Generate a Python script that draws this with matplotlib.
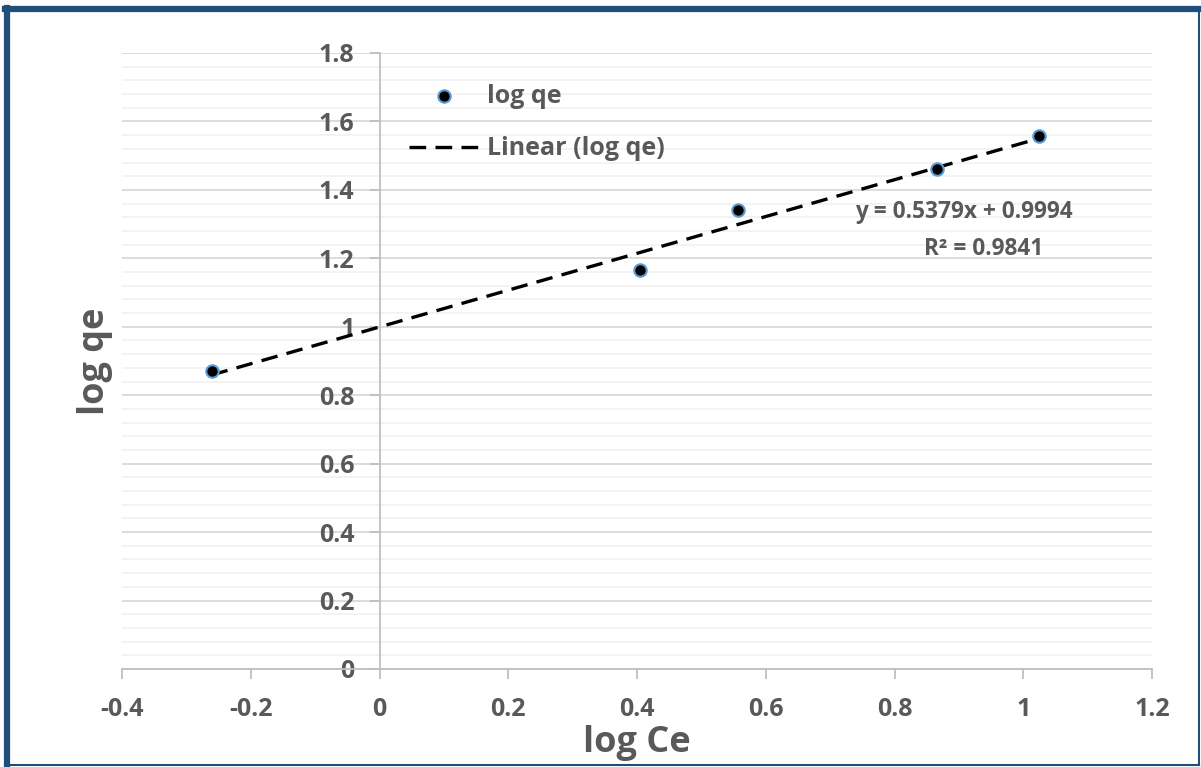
import numpy as np
import matplotlib.pyplot as plt
from matplotlib.lines import Line2D
from matplotlib.ticker import MultipleLocator

# Freundlich isotherm data
log_ce = [-0.261, 0.404, 0.557, 0.866, 1.025]
log_qe = [0.871, 1.166, 1.341, 1.461, 1.557]
slope = 0.5379
intercept = 0.9994
r2 = 0.9841

x_ticks = [-0.4, -0.2, 0, 0.2, 0.4, 0.6, 0.8, 1, 1.2]
x_labels = ['-0.4', '-0.2', '0', '0.2', '0.4', '0.6', '0.8', '1', '1.2']
y_ticks = [0, 0.2, 0.4, 0.6, 0.8, 1, 1.2, 1.4, 1.6, 1.8]
y_labels = ['0', '0.2', '0.4', '0.6', '0.8', '1', '1.2', '1.4', '1.6', '1.8']

plt.rcParams['font.family'] = ['Open Sans', 'DejaVu Sans']
plt.rcParams['font.weight'] = 'bold'
grey = '#595959'

fig = plt.figure(figsize=(12.01, 7.67), dpi=100)
ax = fig.add_axes([0.1016, 0.1278, 0.8576, 0.8031])

# data points
ax.scatter(log_ce, log_qe, s=80, color='black', edgecolors='#5B9BD5',
           linewidths=1.5, zorder=4, label='log qe')

# linear trendline across the data range
xs = np.array([min(log_ce), max(log_ce)])
ax.plot(xs, slope * xs + intercept, color='black', lw=2.4,
        dashes=(5, 2.8), zorder=3, label='Linear (log qe)')

ax.set_xlim(-0.4, 1.2)
ax.set_ylim(0, 1.8)
ax.set_xticks(x_ticks)
ax.set_xticklabels(x_labels)
ax.set_yticks(y_ticks)
ax.set_yticklabels(y_labels)
ax.yaxis.set_minor_locator(MultipleLocator(0.04))

ax.grid(axis='y', which='major', color='#D9D9D9', lw=1.3, zorder=0)
ax.grid(axis='y', which='minor', color='#F2F2F2', lw=1.3, zorder=0)
ax.set_axisbelow(True)

for side in ('top', 'right'):
    ax.spines[side].set_visible(False)
ax.spines['left'].set_position(('data', 0))
ax.spines['left'].set_color('#BFBFBF')
ax.spines['bottom'].set_color('#BFBFBF')
ax.spines['left'].set_linewidth(1.3)
ax.spines['bottom'].set_linewidth(1.3)

ax.tick_params(axis='both', which='major', color='#BFBFBF', length=7,
               width=1.3, labelsize=18, labelcolor=grey)
ax.tick_params(axis='x', pad=13)
ax.tick_params(axis='y', pad=11)
ax.tick_params(axis='y', which='minor', length=0)
for lbl in ax.get_xticklabels() + ax.get_yticklabels():
    lbl.set_fontweight('bold')

ax.set_xlabel('log Ce', fontsize=26, color=grey, fontweight='bold', labelpad=2)
ax.set_ylabel('log qe', fontsize=26, color=grey, fontweight='bold')
ax.yaxis.set_label_coords(-0.009, 0.5)

# trendline equation and R²
ax.text(0.739, 1.336, f'y = {slope}x + {intercept}', fontsize=16.3,
        color=grey, fontweight='bold', ha='left', va='center')
ax.text(0.846, 1.228, f'R² = {r2}', fontsize=16.3,
        color=grey, fontweight='bold', ha='left', va='center')

leg = ax.legend(loc='upper left', bbox_to_anchor=(0.279, 0.95), frameon=False,
                handlelength=2.8, borderpad=0, borderaxespad=0,
                labelspacing=1.1, handletextpad=0.32,
                prop={'weight': 'bold', 'size': 18})
for t in leg.get_texts():
    t.set_color(grey)

# outer chart border
border = '#1F4E79'
fig.add_artist(Line2D([0.006, 0.006], [0.003, 0.990], color=border, lw=4.5, transform=fig.transFigure))
fig.add_artist(Line2D([0.004, 0.998], [0.988, 0.988], color=border, lw=4.5, transform=fig.transFigure))
fig.add_artist(Line2D([0.998, 0.998], [0.003, 0.990], color=border, lw=1.5, transform=fig.transFigure))
fig.add_artist(Line2D([0.004, 0.998], [0.003, 0.003], color=border, lw=1.5, transform=fig.transFigure))

fig.savefig('out.png', dpi=100)
